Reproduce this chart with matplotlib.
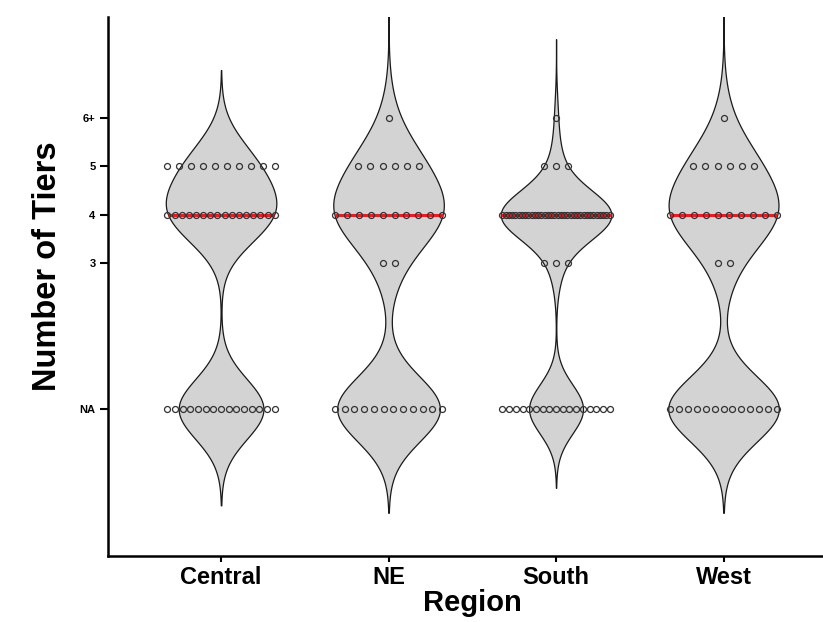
import numpy as np
import matplotlib
matplotlib.use("Agg")
import matplotlib.pyplot as plt

# ---------------- data ----------------
regions = ["Central", "NE", "South", "West"]
tier_values = [0, 3, 4, 5, 6]          # NA plotted at 0
tier_labels = ["NA", "3", "4", "5", "6+"]
central_counts = [15, 0, 16, 10, 0]
ne_counts = [12, 2, 10, 6, 1]
south_counts = [17, 3, 34, 3, 1]
west_counts = [13, 2, 10, 6, 1]

all_counts = [central_counts, ne_counts, south_counts, west_counts]

plt.rcParams["font.family"] = ["Liberation Sans", "DejaVu Sans"]

W, H = 823, 622
fig = plt.figure(figsize=(W / 100, H / 100), dpi=100)
ax = fig.add_axes([108 / W, (622 - 556) / H, 728.6 / W, (556 - 17) / H])

bw_adjust = 0.6
cut = 3.2
width = 0.66
pt_step_max = 0.072
pt_span_max = 0.64

stats = []
for counts in all_counts:
    data = np.repeat(np.array(tier_values, float), counts)
    n = len(data)
    h = bw_adjust * data.std(ddof=1) * n ** (-0.2)
    y = np.linspace(data.min() - cut * h, data.max() + cut * h, 600)
    dens = np.exp(-0.5 * ((y[:, None] - data[None, :]) / h) ** 2).sum(axis=1)
    dens /= (n * h * np.sqrt(2 * np.pi))
    stats.append(dict(coords=y, vals=dens, mean=data.mean(),
                      median=np.median(data), min=data.min(), max=data.max(),
                      quantiles=[]))

positions = np.arange(len(regions))
parts = ax.violin(stats, positions=positions, widths=width,
                  showmeans=False, showextrema=False, showmedians=False)
for body in parts["bodies"]:
    body.set_facecolor("#d3d3d3")
    body.set_edgecolor("#1a1a1a")
    body.set_linewidth(0.9)
    body.set_alpha(1)
    body.set_zorder(1)

# median lines
for pos, st in zip(positions, stats):
    scale = 0.5 * width / st["vals"].max()
    half = np.interp(st["median"], st["coords"], st["vals"]) * scale
    ax.hlines(st["median"], pos - half, pos + half, colors="#e41e26",
              linewidth=2.2, zorder=2)

# points
for pos, counts in zip(positions, all_counts):
    for v, c in zip(tier_values, counts):
        if c == 0:
            continue
        step = min(pt_step_max, pt_span_max / (c - 1)) if c > 1 else 0
        xs = pos + (np.arange(c) - (c - 1) / 2) * step
        ax.plot(xs, np.full(c, v), linestyle="none", marker="o",
                markersize=4.3, markerfacecolor="none",
                markeredgecolor="#333333", markeredgewidth=0.9, zorder=3)

ax.set_xlim(-0.675, 3.675)
ax.set_ylim(-3.03, 8.08)
ax.set_xticks(positions)
ax.set_xticklabels(regions, fontsize=17, fontweight="bold")
ax.set_yticks(tier_values)
ax.set_yticklabels(tier_labels, fontsize=8, fontweight="bold")
ax.tick_params(axis="y", length=6, width=1.5, pad=3)
ax.tick_params(axis="x", length=4, width=1.5, pad=3)
for s in ["top", "right"]:
    ax.spines[s].set_visible(False)
for s in ["left", "bottom"]:
    ax.spines[s].set_linewidth(1.8)

ax.set_ylabel("Number of Tiers", fontsize=23.5, fontweight="bold")
ax.yaxis.set_label_coords(-0.062, 0.538)
ax.set_xlabel("Region", fontsize=21, fontweight="bold")
ax.xaxis.set_label_coords(0.5, -0.062)

fig.savefig("out.png", dpi=100)
